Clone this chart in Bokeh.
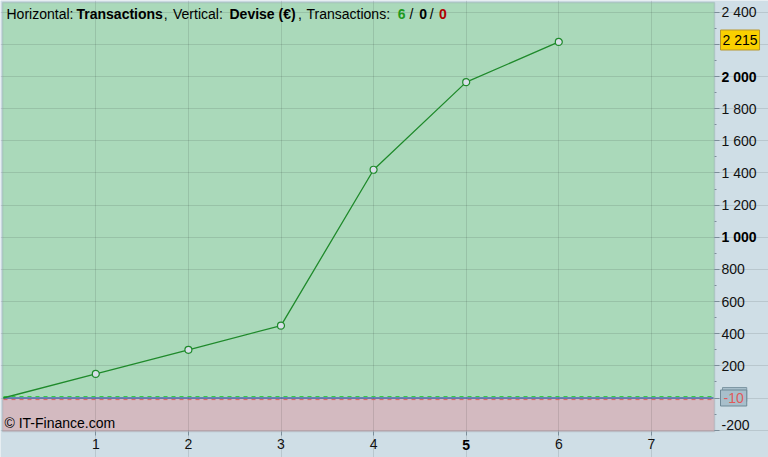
from bokeh.plotting import figure
from bokeh.models import Label, BoxAnnotation, FixedTicker
from bokeh.embed import file_html
from bokeh.resources import INLINE

# ---- data ----
transactions = [0, 1, 2, 3, 4, 5, 6]
balance = [0, 150, 300, 450, 1420, 1965, 2215]
y_ticks = list(range(-200, 2401, 200))
y_minor = list(range(-200, 2401, 100))
x_ticks = [1, 2, 3, 4, 5, 6, 7]
bold_y_ticks = [1000, 2000]
bold_x_ticks = [5]
last_value = 2215
threshold_value = -10
counts = ["6", "0", "0"]

FONT = "Liberation Sans"
W, H = 768, 457

# pixel geometry of the reference
PX_X0, PX_PER_X = 2.7, 92.6          # x=0 at px 2.7
PX_Y0, PX_PER_Y = 397.5, 0.16075      # y=0 at py 397.5
AREA_L, AREA_T, AREA_R, AREA_B = 2, 2, 714, 431


def sx(px):
    return (px - PX_X0) / PX_PER_X


def sy(py):
    return (PX_Y0 - py) / PX_PER_Y


def fmt(v):
    return f"{v:,}".replace(",", " ")


p = figure(width=W, height=H, x_range=(sx(0), sx(W)), y_range=(sy(H), sy(0)),
           output_backend="svg", toolbar_location=None, y_axis_location="right",
           min_border=0, min_border_left=0, min_border_right=0,
           min_border_top=0, min_border_bottom=0,
           background_fill_color="#CFDEE6", border_fill_color="#CFDEE6",
           outline_line_color=None)

# plot areas
p.add_layout(BoxAnnotation(left=sx(AREA_L), right=sx(AREA_R), top=sy(AREA_T), bottom=sy(398.3),
                           fill_color="#AAD9BA", fill_alpha=1, line_color=None, level="image"))
p.add_layout(BoxAnnotation(left=sx(AREA_L), right=sx(AREA_R), top=sy(398.3), bottom=sy(AREA_B),
                           fill_color="#D3BAC0", fill_alpha=1, line_color=None, level="image"))

# grid
p.xgrid.ticker = FixedTicker(ticks=x_ticks)
p.ygrid.ticker = FixedTicker(ticks=y_ticks)
p.xgrid.bounds = (sy(AREA_B), sy(AREA_T))
p.ygrid.bounds = (sx(AREA_L), sx(AREA_R))
p.grid.grid_line_color = "black"
p.grid.grid_line_alpha = 0.1
p.grid.grid_line_width = 1

# axes
xa = p.xaxis[0]
xa.fixed_location = sy(AREA_B)
xa.ticker = FixedTicker(ticks=x_ticks)
xa.axis_line_color = None
xa.major_tick_line_color = "#7D8E9A"
xa.major_tick_out = 4
xa.major_tick_in = 0
xa.minor_tick_line_color = None
xa.major_label_standoff = 3
xa.major_label_text_font = FONT
xa.major_label_text_font_size = "14px"
xa.major_label_text_color = "#111111"
xa.major_label_overrides = {t: ("" if t in bold_x_ticks else str(t)) for t in x_ticks}

ya = p.yaxis[0]
ya.fixed_location = sx(AREA_R)
ya.ticker = FixedTicker(ticks=y_ticks, minor_ticks=y_minor)
ya.axis_line_color = None
ya.major_tick_line_color = "#7D8E9A"
ya.minor_tick_line_color = "#7D8E9A"
ya.major_tick_out = 5
ya.major_tick_in = 0
ya.minor_tick_out = 2
ya.minor_tick_in = 0
ya.major_label_standoff = 2
ya.major_label_text_font = FONT
ya.major_label_text_font_size = "14px"
ya.major_label_text_color = "#111111"
ya.major_label_overrides = {t: ("" if (t in bold_y_ticks or t <= 0) else fmt(t)) for t in y_ticks}

# frame outline
p.add_layout(BoxAnnotation(left=sx(AREA_L), right=sx(AREA_R), top=sy(AREA_T), bottom=sy(AREA_B),
                           fill_alpha=0, line_color="#8797A3", line_width=1.5))

# bold / manual axis labels
for t in bold_y_ticks:
    p.add_layout(Label(x=sx(721), y=t, text=fmt(t), text_font=FONT, text_font_size="14px",
                       text_font_style="bold", text_color="#000000",
                       text_align="left", text_baseline="middle"))
for t in bold_x_ticks:
    p.add_layout(Label(x=t, y=sy(444.2), text=str(t), text_font=FONT, text_font_size="14px",
                       text_font_style="bold", text_color="#000000",
                       text_align="center", text_baseline="middle"))
p.add_layout(Label(x=sx(721), y=sy(424), text=fmt(y_ticks[0]), text_font=FONT,
                   text_font_size="14px", text_color="#111111",
                   text_align="left", text_baseline="middle"))

# reference lines around zero
xl, xr = sx(AREA_L + 1), sx(AREA_R - 1)
p.segment(x0=[xl], y0=[sy(396)], x1=[xr], y1=[sy(396)], line_color="#33CC44",
          line_dash="4 4", line_width=1)
p.segment(x0=[xl], y0=[0], x1=[xr], y1=[0], line_color="#2233AA", line_width=1)
p.segment(x0=[xl], y0=[threshold_value], x1=[xr], y1=[threshold_value],
          line_color="#D96262", line_dash="4 4", line_width=1)

# series
p.line(transactions, balance, line_color="#1F8A2B", line_width=1.3)
p.scatter(transactions[1:], balance[1:], size=7, marker="circle",
          fill_color="#D8DFE8", line_color="#1E8A2A", line_width=1.2)

# value boxes on the axis
p.add_layout(Label(x=sx(722), y=sy(394), text="-10", text_font=FONT, text_font_size="14px",
                   text_color="#A8BFCB", background_fill_color="#A8BFCB",
                   border_line_color="#7F98A5", text_align="left", text_baseline="middle",
                   padding=2))
p.add_layout(Label(x=sx(720), y=sy(397.5), text=fmt(threshold_value), text_font=FONT,
                   text_font_size="14px", text_color="#E05A5A",
                   background_fill_color="#A8BFCB", border_line_color="#6E8996",
                   text_align="left", text_baseline="middle", padding=3))
p.add_layout(Label(x=sx(720), y=sy(39.5), text=fmt(last_value), text_font=FONT,
                   text_font_size="14px", text_color="#000000",
                   background_fill_color="#FAD000", border_line_color="#B8962E",
                   text_align="left", text_baseline="middle", padding=2))

# header
header = [
    ("Horizontal:", 6, "normal", "#000000"),
    ("Transactions", 76, "bold", "#000000"),
    (",", 163.3, "normal", "#000000"),
    ("Vertical:", 172.5, "normal", "#000000"),
    ("Devise (€)", 229, "bold", "#000000"),
    (",", 297.5, "normal", "#000000"),
    ("Transactions:", 306, "normal", "#000000"),
    (counts[0], 397.3, "bold", "#1E9A1E"),
    ("/", 409, "normal", "#000000"),
    (counts[1], 418.7, "bold", "#000000"),
    ("/", 429.3, "normal", "#000000"),
    (counts[2], 438.5, "bold", "#B00000"),
]
for txt, px, style, col in header:
    p.add_layout(Label(x=sx(px), y=sy(13), text=txt, text_font=FONT, text_font_size="14px",
                       text_font_style=style, text_color=col,
                       text_align="left", text_baseline="middle"))

p.add_layout(Label(x=sx(4), y=sy(422.3), text="© IT-Finance.com", text_font=FONT,
                   text_font_size="14px", text_color="#000000",
                   text_align="left", text_baseline="middle"))

open("out.html", "w").write(file_html(p, INLINE))
